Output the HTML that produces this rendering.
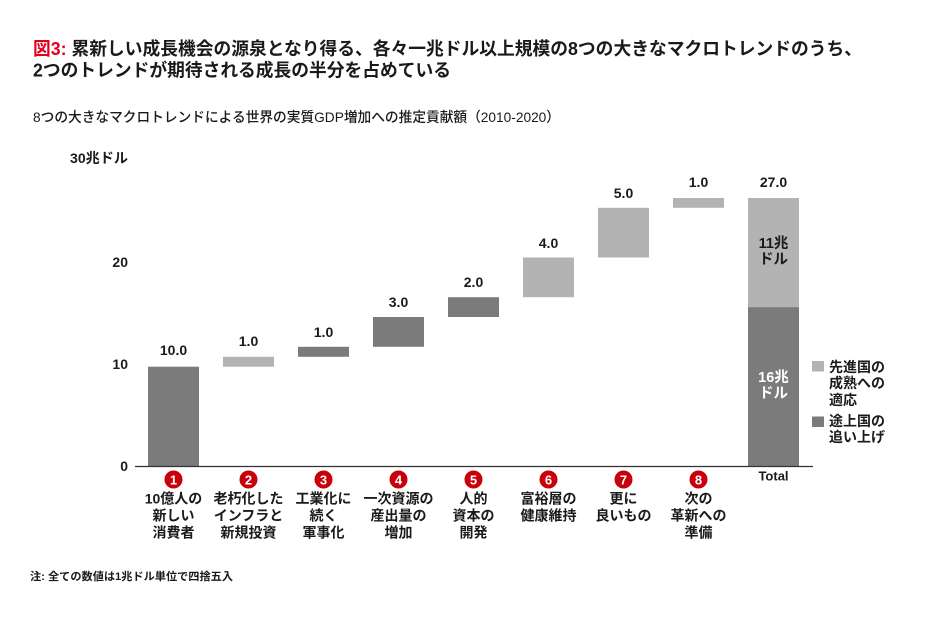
<!DOCTYPE html>
<html>
<head>
<meta charset="utf-8">
<style>
html,body{margin:0;padding:0;background:#fff;}
svg{display:block;}
text{font-family:"Liberation Sans","Noto Sans CJK JP",sans-serif;fill:#1a1a1a;}
.b{font-weight:bold;}
</style>
</head>
<body>
<svg width="950" height="625" viewBox="0 0 950 625" xmlns="http://www.w3.org/2000/svg">
<rect width="950" height="625" fill="#fff"/>

<!-- Title -->
<text x="33" y="49" dominant-baseline="central" class="b" font-size="18" textLength="829" lengthAdjust="spacingAndGlyphs"><tspan style="fill:#e3001b">図3:</tspan> 累新しい成長機会の源泉となり得る、各々一兆ドル以上規模の8つの大きなマクロトレンドのうち、</text>
<text x="33" y="70.5" dominant-baseline="central" class="b" font-size="18" textLength="418" lengthAdjust="spacingAndGlyphs">2つのトレンドが期待される成長の半分を占めている</text>

<!-- Subtitle -->
<text x="33" y="117" dominant-baseline="central" font-size="14" font-weight="500" textLength="527" lengthAdjust="spacingAndGlyphs">8つの大きなマクロトレンドによる世界の実質GDP増加への推定貢献額（2010-2020）</text>

<!-- Y axis labels -->
<g class="b" font-size="14" text-anchor="end">
<text x="128" y="158" dominant-baseline="central" textLength="58" lengthAdjust="spacingAndGlyphs">30兆ドル</text>
<text x="128" y="262" dominant-baseline="central">20</text>
<text x="128" y="364" dominant-baseline="central">10</text>
<text x="128" y="466" dominant-baseline="central">0</text>
</g>

<!-- Bars -->
<g>
<rect x="148" y="366.7" width="51" height="99.3" fill="#7b7b7b"/>
<rect x="223" y="356.8" width="51" height="9.9" fill="#b3b3b3"/>
<rect x="298" y="346.8" width="51" height="10" fill="#7b7b7b"/>
<rect x="373" y="317" width="51" height="29.8" fill="#7b7b7b"/>
<rect x="448" y="297.2" width="51" height="19.8" fill="#7b7b7b"/>
<rect x="523" y="257.5" width="51" height="39.7" fill="#b3b3b3"/>
<rect x="598" y="207.8" width="51" height="49.7" fill="#b3b3b3"/>
<rect x="673" y="198" width="51" height="9.8" fill="#b3b3b3"/>
<rect x="748" y="198" width="51" height="109.1" fill="#b3b3b3"/>
<rect x="748" y="307.1" width="51" height="158.9" fill="#7b7b7b"/>
</g>

<!-- Axis line -->
<line x1="135" y1="466.5" x2="813" y2="466.5" stroke="#333" stroke-width="1.3"/>

<!-- Value labels -->
<g class="b" font-size="14" text-anchor="middle">
<text x="173.5" y="350" dominant-baseline="central">10.0</text>
<text x="248.5" y="341" dominant-baseline="central">1.0</text>
<text x="323.5" y="332" dominant-baseline="central">1.0</text>
<text x="398.5" y="302" dominant-baseline="central">3.0</text>
<text x="473.5" y="282" dominant-baseline="central">2.0</text>
<text x="548.5" y="243" dominant-baseline="central">4.0</text>
<text x="623.5" y="193" dominant-baseline="central">5.0</text>
<text x="698.5" y="182" dominant-baseline="central">1.0</text>
<text x="773.5" y="182" dominant-baseline="central">27.0</text>
</g>

<!-- Total bar inner labels -->
<g class="b" font-size="14.5" text-anchor="middle">
<text x="773.5" y="244" dominant-baseline="central">11兆</text>
<text x="773.5" y="260" dominant-baseline="central">ドル</text>
<text x="773.5" y="378" dominant-baseline="central" style="fill:#fff">16兆</text>
<text x="773.5" y="394" dominant-baseline="central" style="fill:#fff">ドル</text>
<text x="773.5" y="476" dominant-baseline="central" font-size="13">Total</text>
</g>

<!-- Red number circles -->
<g>
<circle cx="173.5" cy="479.5" r="9" fill="#c8000a"/>
<circle cx="248.5" cy="479.5" r="9" fill="#c8000a"/>
<circle cx="323.5" cy="479.5" r="9" fill="#c8000a"/>
<circle cx="398.5" cy="479.5" r="9" fill="#c8000a"/>
<circle cx="473.5" cy="479.5" r="9" fill="#c8000a"/>
<circle cx="548.5" cy="479.5" r="9" fill="#c8000a"/>
<circle cx="623.5" cy="479.5" r="9" fill="#c8000a"/>
<circle cx="698.5" cy="479.5" r="9" fill="#c8000a"/>
</g>
<g class="b" font-size="13" text-anchor="middle">
<text x="173.5" y="480" dominant-baseline="central" style="fill:#fff">1</text>
<text x="248.5" y="480" dominant-baseline="central" style="fill:#fff">2</text>
<text x="323.5" y="480" dominant-baseline="central" style="fill:#fff">3</text>
<text x="398.5" y="480" dominant-baseline="central" style="fill:#fff">4</text>
<text x="473.5" y="480" dominant-baseline="central" style="fill:#fff">5</text>
<text x="548.5" y="480" dominant-baseline="central" style="fill:#fff">6</text>
<text x="623.5" y="480" dominant-baseline="central" style="fill:#fff">7</text>
<text x="698.5" y="480" dominant-baseline="central" style="fill:#fff">8</text>
</g>

<!-- Category labels -->
<g class="b" font-size="14" text-anchor="middle">
<text x="173.5" y="498.5" dominant-baseline="central">10億人の</text>
<text x="173.5" y="515.5" dominant-baseline="central">新しい</text>
<text x="173.5" y="532.5" dominant-baseline="central">消費者</text>

<text x="248.5" y="498.5" dominant-baseline="central">老朽化した</text>
<text x="248.5" y="515.5" dominant-baseline="central">インフラと</text>
<text x="248.5" y="532.5" dominant-baseline="central">新規投資</text>

<text x="323.5" y="498.5" dominant-baseline="central">工業化に</text>
<text x="323.5" y="515.5" dominant-baseline="central">続く</text>
<text x="323.5" y="532.5" dominant-baseline="central">軍事化</text>

<text x="398.5" y="498.5" dominant-baseline="central">一次資源の</text>
<text x="398.5" y="515.5" dominant-baseline="central">産出量の</text>
<text x="398.5" y="532.5" dominant-baseline="central">増加</text>

<text x="473.5" y="498.5" dominant-baseline="central">人的</text>
<text x="473.5" y="515.5" dominant-baseline="central">資本の</text>
<text x="473.5" y="532.5" dominant-baseline="central">開発</text>

<text x="548.5" y="498.5" dominant-baseline="central">富裕層の</text>
<text x="548.5" y="515.5" dominant-baseline="central">健康維持</text>

<text x="623.5" y="498.5" dominant-baseline="central">更に</text>
<text x="623.5" y="515.5" dominant-baseline="central">良いもの</text>

<text x="698.5" y="498.5" dominant-baseline="central">次の</text>
<text x="698.5" y="515.5" dominant-baseline="central">革新への</text>
<text x="698.5" y="532.5" dominant-baseline="central">準備</text>
</g>

<!-- Legend -->
<rect x="812" y="361" width="12" height="10.5" fill="#b3b3b3"/>
<rect x="812" y="416.5" width="12" height="10.5" fill="#7b7b7b"/>
<g class="b" font-size="14">
<text x="829" y="367" dominant-baseline="central">先進国の</text>
<text x="829" y="383" dominant-baseline="central">成熟への</text>
<text x="829" y="400" dominant-baseline="central">適応</text>
<text x="829" y="421" dominant-baseline="central">途上国の</text>
<text x="829" y="437" dominant-baseline="central">追い上げ</text>
</g>

<!-- Footnote -->
<text x="30" y="577" dominant-baseline="central" class="b" font-size="11" textLength="203" lengthAdjust="spacingAndGlyphs">注: 全ての数値は1兆ドル単位で四捨五入</text>
</svg>
</body>
</html>
